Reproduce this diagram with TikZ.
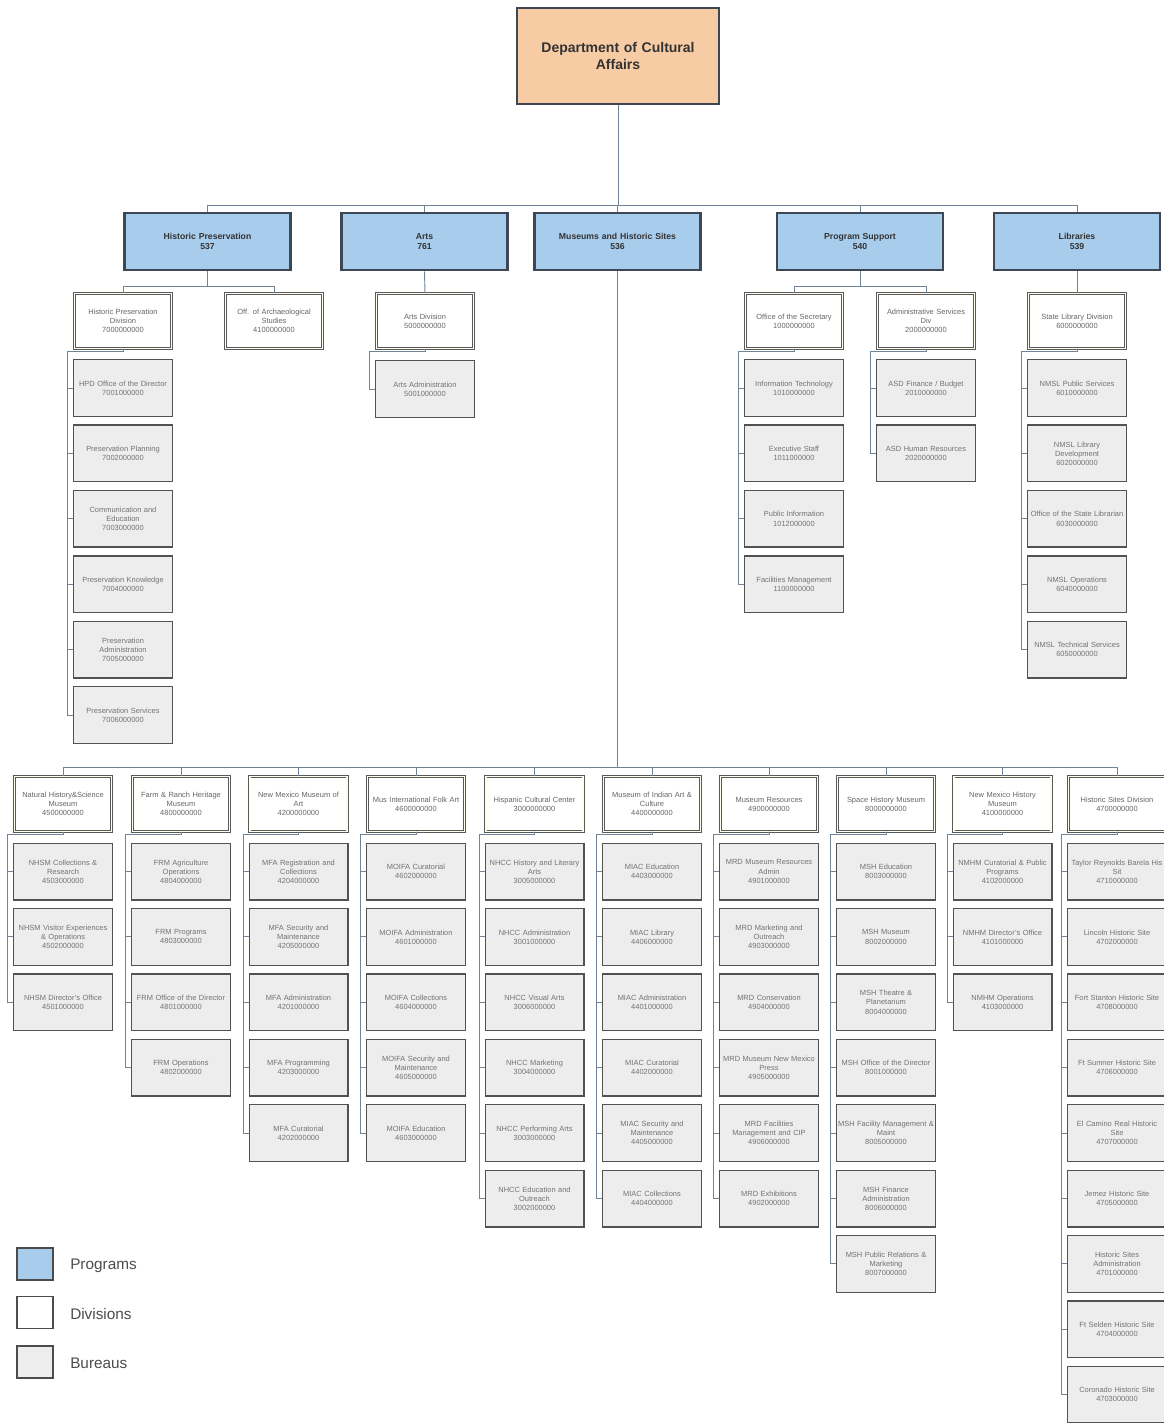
\documentclass[tikz,border=0pt]{standalone}
\usepackage{fontspec}
\setmainfont{Liberation Sans}
\usetikzlibrary{calc}
\definecolor{titlefill}{RGB}{247,203,163}
\definecolor{progfill}{RGB}{168,204,236}
\definecolor{progline}{RGB}{62,72,84}
\definecolor{connline}{RGB}{112,132,152}
\newcommand\burcol[4]{%
  \foreach \t [count=\i] in {#4}{%
    \node[bureau] (#1-\i) at (#2,{#3+65.4*(\i-1)}) {\t};
    \draw[conn] (#1.south) -- ++(0,3) -| ([xshift=-4pt]#1-\i.west) -- (#1-\i.west);
  }}
\begin{document}
\begin{tikzpicture}[x=0.75pt,y=-0.75pt,
  conn/.style={draw=connline,line width=0.7pt},
  titlebox/.style={rectangle,fill=titlefill,draw=progline,line width=1.8pt,
    minimum width=151.5pt,minimum height=72pt,text width=140pt,align=center,
    font=\fontsize{10.5}{12.5}\selectfont\bfseries,text=black!80,inner sep=0pt},
  progbox/.style={rectangle,fill=progfill,draw=progline,line width=1.8pt,
    minimum width=124.5pt,minimum height=43pt,text width=118pt,align=center,
    font=\fontsize{6.5}{7.8}\selectfont\bfseries,text=black!80,inner sep=0pt},
  divbox/.style={rectangle,fill=white,draw=black!65,line width=0.55pt,double=yellow!6!white,double distance=1.1pt,
    minimum width=73pt,minimum height=41pt,text width=71pt,align=center,
    font=\fontsize{5.6}{6.8}\selectfont,text=black!60,inner sep=0pt},
  bureau/.style={rectangle,fill=black!7,draw=black!68,line width=1pt,
    minimum width=74pt,minimum height=42.5pt,text width=72pt,align=center,
    font=\fontsize{5.6}{6.8}\selectfont,text=black!55,inner sep=0pt},
  legbox/.style={rectangle,draw=black!70,line width=0.8pt,minimum width=27pt,minimum height=24pt,inner sep=0pt},
  legtext/.style={anchor=west,font=\fontsize{11.5}{13}\selectfont,text=black!70,inner sep=0pt}]
\useasboundingbox (0,0) rectangle (1163,1423);
% title and programs
\node[titlebox] (dca) at (618,56) {Department of Cultural\\Affairs};
\node[progbox] (hp) at (207.5,241.5) {Historic Preservation\\537};
\node[progbox] (arts) at (424.5,241.5) {Arts\\761};
\node[progbox] (mus) at (617.5,241.5) {Museums and Historic Sites\\536};
\node[progbox] (ps) at (860,241.5) {Program Support\\540};
\node[progbox] (lib) at (1077,241.5) {Libraries\\539};
\coordinate (topbus) at (618,205);
\draw[conn] (dca.south) -- (topbus);
\foreach \p in {hp,arts,mus,ps,lib}{\draw[conn] (topbus) -| (\p.north);}
% top divisions
\node[divbox] (hpd) at (123,321) {Historic Preservation\\Division\\7000000000};
\node[divbox] (oas) at (274,321) {Off. of Archaeological\\Studies\\4100000000};
\node[divbox] (artsd) at (425,321) {Arts Division\\5000000000};
\node[divbox] (oos) at (794,321) {Office of the Secretary\\1000000000};
\node[divbox] (asd) at (926,321) {Administrative Services\\Div\\2000000000};
\node[divbox] (sld) at (1077,321) {State Library Division\\6000000000};
\draw[conn] (hp.south) -- ++(0,15) -| (hpd.north);
\draw[conn] (hp.south) -- ++(0,15) -| (oas.north);
\draw[conn] (arts.south) -- (artsd.north);
\draw[conn] (ps.south) -- ++(0,15) -| (oos.north);
\draw[conn] (ps.south) -- ++(0,15) -| (asd.north);
\draw[conn] (lib.south) -- (sld.north);
% top bureaus
\burcol{hpd}{123}{388}{{HPD Office of the Director\\7001000000},{Preservation Planning\\7002000000},{Communication and\\Education\\7003000000},{Preservation Knowledge\\7004000000},{Preservation\\Administration\\7005000000},{Preservation Services\\7006000000}}
\burcol{artsd}{425}{389}{{Arts Administration\\5001000000}}
\burcol{oos}{794}{388}{{Information Technology\\1010000000},{Executive Staff\\1011000000},{Public Information\\1012000000},{Facilities Management\\1100000000}}
\burcol{asd}{926}{388}{{ASD Finance / Budget\\2010000000},{ASD Human Resources\\2020000000}}
\burcol{sld}{1077}{388}{{NMSL Public Services\\6010000000},{NMSL Library\\Development\\6020000000},{\makebox[72pt]{Office of the State Librarian}\\6030000000},{NMSL Operations\\6040000000},{NMSL Technical Services\\6050000000}}
% museum divisions
\coordinate (mbus) at (617.5,767);
\draw[conn] (mus.south) -- (mbus);
\node[divbox] (m1) at (63,804) {Natural History\&Science\\Museum\\4500000000};
\node[divbox] (m2) at (181,804) {Farm \& Ranch Heritage\\Museum\\4800000000};
\node[divbox] (m3) at (298.5,804) {New Mexico Museum of\\Art\\4200000000};
\node[divbox] (m4) at (416,804) {Mus International Folk Art\\4600000000};
\node[divbox] (m5) at (534.5,804) {Hispanic Cultural Center\\3000000000};
\node[divbox] (m6) at (652,804) {Museum of Indian Art \&\\Culture\\4400000000};
\node[divbox] (m7) at (769,804) {Museum Resources\\4900000000};
\node[divbox] (m8) at (886,804) {Space History Museum\\8000000000};
\node[divbox] (m9) at (1002.5,804) {New Mexico History\\Museum\\4100000000};
\node[divbox] (m10) at (1117,804) {Historic Sites Division\\4700000000};
\foreach \m in {m1,m2,m3,m4,m5,m6,m7,m8,m9,m10}{\draw[conn] (mbus) -| (\m.north);}
% museum bureaus
\burcol{m1}{63}{871.5}{{NHSM Collections \&\\Research\\4503000000},{NHSM Visitor Experiences\\\& Operations\\4502000000},{NHSM Director's Office\\4501000000}}
\burcol{m2}{181}{871.5}{{FRM Agriculture\\Operations\\4804000000},{FRM Programs\\4803000000},{FRM Office of the Director\\4801000000},{FRM Operations\\4802000000}}
\burcol{m3}{298.5}{871.5}{{MFA Registration and\\Collections\\4204000000},{MFA Security and\\Maintenance\\4205000000},{MFA Administration\\4201000000},{MFA Programming\\4203000000},{MFA Curatorial\\4202000000}}
\burcol{m4}{416}{871.5}{{MOIFA Curatorial\\4602000000},{MOIFA Administration\\4601000000},{MOIFA Collections\\4604000000},{MOIFA Security and\\Maintenance\\4605000000},{MOIFA Education\\4603000000}}
\burcol{m5}{534.5}{871.5}{{NHCC History and Literary\\Arts\\3005000000},{NHCC Administration\\3001000000},{NHCC Visual Arts\\3006000000},{NHCC Marketing\\3004000000},{NHCC Performing Arts\\3003000000},{NHCC Education and\\Outreach\\3002000000}}
\burcol{m6}{652}{871.5}{{MIAC Education\\4403000000},{MIAC Library\\4406000000},{MIAC Administration\\4401000000},{MIAC Curatorial\\4402000000},{MIAC Security and\\Maintenance\\4405000000},{MIAC Collections\\4404000000}}
\burcol{m7}{769}{871.5}{{MRD Museum Resources\\Admin\\4901000000},{MRD Marketing and\\Outreach\\4903000000},{MRD Conservation\\4904000000},{MRD Museum New Mexico\\Press\\4905000000},{MRD Facilities\\Management and CIP\\4906000000},{MRD Exhibitions\\4902000000}}
\burcol{m8}{886}{871.5}{{MSH Education\\8003000000},{MSH Museum\\8002000000},{MSH Theatre \&\\Planetarium\\8004000000},{MSH Office of the Director\\8001000000},{MSH Facility Management \&\\Maint\\8005000000},{MSH Finance\\Administration\\8006000000},{MSH Public Relations \&\\Marketing\\8007000000}}
\burcol{m9}{1002.5}{871.5}{{NMHM Curatorial \& Public\\Programs\\4102000000},{NMHM Director's Office\\4101000000},{NMHM Operations\\4103000000}}
\burcol{m10}{1117}{871.5}{{Taylor Reynolds Barela His\\Sit\\4710000000},{Lincoln Historic Site\\4702000000},{Fort Stanton Historic Site\\4708000000},{Ft Sumner Historic Site\\4706000000},{El Camino Real Historic\\Site\\4707000000},{Jemez Historic Site\\4705000000},{Historic Sites\\Administration\\4701000000},{Ft Selden Historic Site\\4704000000},{Coronado Historic Site\\4703000000}}
% legend
\node[legbox,fill=progfill] (lp) at (35,1264) {};
\node[legbox,fill=white] (ld) at (35,1312.5) {};
\node[legbox,fill=black!7] (lb) at (35,1362) {};
\node[legtext] (lpt) at (70,1266) {Programs};
\node[legtext] (ldt) at (70,1314) {Divisions};
\node[legtext] (lbt) at (70,1363) {Bureaus};
\end{tikzpicture}
\end{document}
